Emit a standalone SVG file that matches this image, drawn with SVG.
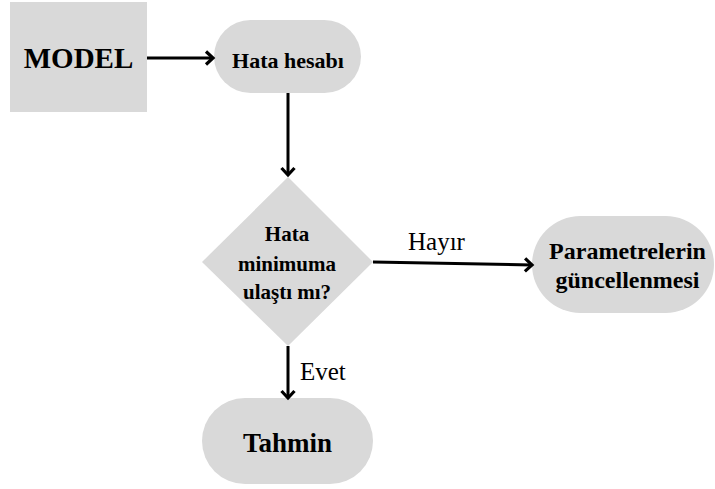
<svg xmlns="http://www.w3.org/2000/svg" width="715" height="489" viewBox="0 0 715 489">
<style>
.shape{fill:#d9d9d9;stroke:none}
.t{font-family:"Liberation Serif","Times New Roman",serif;font-weight:bold;fill:#000;text-anchor:middle}
.lbl{font-family:"Liberation Serif","Times New Roman",serif;fill:#000;font-size:25px}
.c{stroke:#000;stroke-width:3;fill:none;marker-end:url(#ah)}
</style>
<defs>
<marker id="ah" markerWidth="14" markerHeight="18" refX="9" refY="8" orient="auto" markerUnits="userSpaceOnUse">
<path d="M2,1.5 L9,8 L2,14.5" fill="none" stroke="#000" stroke-width="3.2" stroke-linejoin="miter"/>
</marker>
</defs>
<rect width="715" height="489" fill="#fff"/>
<g id="model">
<rect class="shape" x="10" y="2" width="137" height="110"/>
<text class="t" x="78.5" y="68" font-size="29">MODEL</text>
</g>
<g id="hata-hesabi">
<rect class="shape" x="214" y="20" width="147" height="73" rx="36.5"/>
<text class="t" x="288" y="68" font-size="22">Hata hesabı</text>
</g>
<g id="karar">
<polygon class="shape" points="288,177 373,262 288,346 202,262"/>
<text class="t" x="287" y="241" font-size="21">Hata</text>
<text class="t" x="287" y="271" font-size="21">minimuma</text>
<text class="t" x="287" y="299" font-size="21">ulaştı mı?</text>
</g>
<g id="parametre">
<rect class="shape" x="532" y="216" width="182" height="97" rx="48.5"/>
<text class="t" x="627.5" y="259" font-size="24">Parametrelerin</text>
<text class="t" x="627.5" y="288" font-size="24">güncellenmesi</text>
</g>
<g id="tahmin">
<rect class="shape" x="202" y="398" width="171" height="86" rx="43"/>
<text class="t" x="287.5" y="452" font-size="27">Tahmin</text>
</g>
<g id="connectors">
<line class="c" x1="147" y1="58" x2="213" y2="58"/>
<line class="c" x1="288" y1="93" x2="288" y2="175"/>
<line class="c" x1="373" y1="262" x2="532" y2="265"/>
<line class="c" x1="288" y1="346" x2="288" y2="398"/>
<text class="lbl" x="408" y="250">Hayır</text>
<text class="lbl" x="300" y="380">Evet</text>
</g>
</svg>
